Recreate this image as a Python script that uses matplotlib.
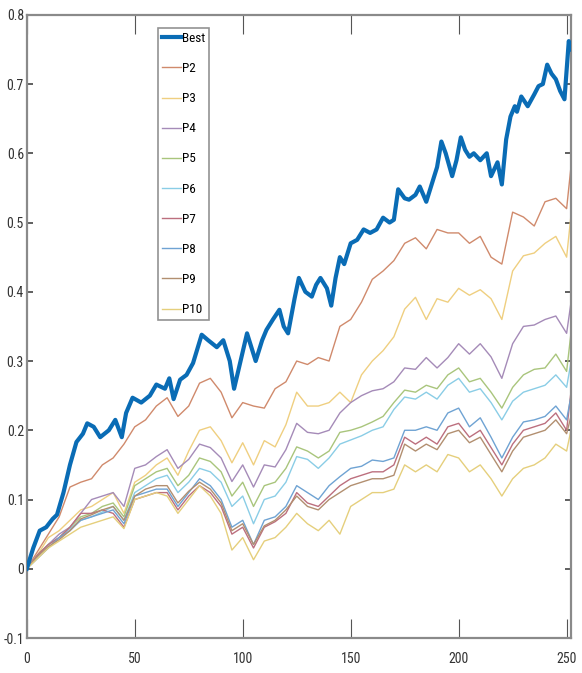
import matplotlib
matplotlib.use("Agg")
import matplotlib.pyplot as plt
from matplotlib.ticker import FuncFormatter

plt.rcParams['font.family'] = ['Roboto Condensed', 'DejaVu Sans']

# best portfolio, read at its own x positions
x_best = [0, 3, 6, 9, 12, 14, 17, 20, 23, 26, 28, 31, 34, 38, 41, 44, 46, 49, 53, 57,
          60, 64, 66, 68, 71, 74, 77, 81, 84, 88, 91, 94, 96, 99, 102, 104, 106, 109, 111, 114,
          117, 119, 121, 124, 126, 129, 132, 134, 136, 139, 141, 143, 145, 147, 150, 153, 156, 159, 162, 165,
          168, 170, 172, 175, 177, 180, 182, 185, 188, 190, 192, 194, 197, 199, 201, 203, 205, 207, 210, 213,
          215, 218, 220, 222, 224, 226, 227, 229, 232, 235, 237, 239, 241, 243, 245, 247, 249, 251, 252]
best = [0.0, 0.03, 0.055, 0.06, 0.072, 0.078, 0.11, 0.15, 0.183, 0.195, 0.21, 0.205, 0.19, 0.2, 0.215, 0.19, 0.225, 0.247, 0.24, 0.25,
        0.266, 0.26, 0.275, 0.245, 0.273, 0.28, 0.297, 0.338, 0.33, 0.32, 0.33, 0.3, 0.26, 0.3, 0.34, 0.32, 0.3, 0.33, 0.345, 0.36,
        0.374, 0.35, 0.34, 0.39, 0.42, 0.40, 0.393, 0.41, 0.42, 0.405, 0.38, 0.42, 0.45, 0.44, 0.47, 0.475, 0.49, 0.485, 0.49, 0.507,
        0.5, 0.504, 0.548, 0.535, 0.533, 0.54, 0.552, 0.53, 0.56, 0.58, 0.617, 0.6, 0.567, 0.59, 0.623, 0.605, 0.595, 0.6, 0.59, 0.6,
        0.567, 0.587, 0.555, 0.62, 0.653, 0.668, 0.66, 0.682, 0.668, 0.685, 0.697, 0.7, 0.728, 0.715, 0.707, 0.69, 0.678, 0.762, 0.75]

# other portfolios, read every 5 days (plus last day)
x = list(range(0, 251, 5)) + [252]
p2 = [0, 0.025, 0.05, 0.075, 0.118, 0.125, 0.13, 0.15, 0.16, 0.18, 0.205, 0.215, 0.235, 0.247, 0.22, 0.235, 0.268, 0.275, 0.255, 0.218,
      0.24, 0.235, 0.232, 0.26, 0.27, 0.30, 0.295, 0.305, 0.30, 0.35, 0.36, 0.385, 0.418, 0.43, 0.445, 0.47, 0.478, 0.462, 0.49, 0.485,
      0.485, 0.47, 0.48, 0.45, 0.44, 0.515, 0.508, 0.495, 0.53, 0.535, 0.52, 0.58]
p3 = [0, 0.02, 0.045, 0.055, 0.07, 0.085, 0.09, 0.1, 0.11, 0.08, 0.125, 0.135, 0.15, 0.16, 0.135, 0.17, 0.2, 0.205, 0.185, 0.153,
      0.182, 0.15, 0.185, 0.176, 0.208, 0.255, 0.235, 0.235, 0.24, 0.255, 0.24, 0.28, 0.3, 0.315, 0.335, 0.375, 0.392, 0.36, 0.39, 0.385,
      0.405, 0.395, 0.403, 0.39, 0.36, 0.43, 0.452, 0.456, 0.47, 0.48, 0.45, 0.51]
p4 = [0, 0.02, 0.035, 0.05, 0.06, 0.08, 0.1, 0.105, 0.11, 0.09, 0.145, 0.15, 0.162, 0.172, 0.145, 0.158, 0.18, 0.175, 0.16, 0.126,
      0.15, 0.118, 0.15, 0.147, 0.172, 0.21, 0.197, 0.195, 0.2, 0.225, 0.24, 0.25, 0.257, 0.26, 0.27, 0.29, 0.288, 0.305, 0.29, 0.305,
      0.325, 0.31, 0.325, 0.306, 0.275, 0.325, 0.35, 0.352, 0.36, 0.365, 0.34, 0.384]
p5 = [0, 0.02, 0.035, 0.045, 0.06, 0.075, 0.08, 0.09, 0.095, 0.075, 0.12, 0.13, 0.14, 0.145, 0.12, 0.135, 0.16, 0.155, 0.14, 0.105,
      0.125, 0.09, 0.12, 0.125, 0.145, 0.176, 0.17, 0.16, 0.17, 0.197, 0.2, 0.205, 0.212, 0.22, 0.24, 0.258, 0.255, 0.265, 0.26, 0.28,
      0.29, 0.27, 0.275, 0.255, 0.232, 0.262, 0.28, 0.288, 0.29, 0.31, 0.285, 0.34]
p6 = [0, 0.018, 0.035, 0.045, 0.058, 0.07, 0.075, 0.082, 0.09, 0.07, 0.11, 0.12, 0.13, 0.135, 0.11, 0.125, 0.145, 0.14, 0.125, 0.09,
      0.105, 0.065, 0.1, 0.105, 0.125, 0.162, 0.158, 0.145, 0.16, 0.18, 0.186, 0.192, 0.2, 0.205, 0.23, 0.248, 0.245, 0.255, 0.245, 0.265,
      0.275, 0.255, 0.26, 0.24, 0.215, 0.242, 0.255, 0.26, 0.265, 0.28, 0.262, 0.298]
p7 = [0, 0.02, 0.035, 0.045, 0.06, 0.08, 0.08, 0.085, 0.08, 0.06, 0.1, 0.105, 0.11, 0.11, 0.085, 0.105, 0.12, 0.11, 0.09, 0.05,
      0.06, 0.03, 0.06, 0.068, 0.08, 0.11, 0.095, 0.09, 0.105, 0.12, 0.13, 0.135, 0.14, 0.14, 0.15, 0.19, 0.18, 0.19, 0.18, 0.205,
      0.21, 0.19, 0.2, 0.175, 0.15, 0.18, 0.2, 0.205, 0.21, 0.225, 0.2, 0.255]
p8 = [0, 0.015, 0.03, 0.045, 0.055, 0.07, 0.075, 0.08, 0.085, 0.065, 0.105, 0.11, 0.115, 0.115, 0.09, 0.11, 0.13, 0.12, 0.1, 0.06,
      0.07, 0.035, 0.07, 0.075, 0.09, 0.12, 0.11, 0.1, 0.12, 0.133, 0.145, 0.148, 0.157, 0.155, 0.16, 0.2, 0.2, 0.205, 0.2, 0.225,
      0.232, 0.205, 0.218, 0.19, 0.16, 0.19, 0.212, 0.215, 0.22, 0.235, 0.215, 0.249]
p9 = [0, 0.018, 0.032, 0.042, 0.055, 0.072, 0.078, 0.085, 0.09, 0.07, 0.105, 0.115, 0.12, 0.12, 0.095, 0.112, 0.125, 0.115, 0.095, 0.055,
      0.065, 0.035, 0.062, 0.07, 0.085, 0.105, 0.09, 0.085, 0.1, 0.11, 0.12, 0.125, 0.13, 0.13, 0.135, 0.18, 0.17, 0.18, 0.172, 0.195,
      0.2, 0.182, 0.19, 0.165, 0.14, 0.17, 0.19, 0.195, 0.2, 0.215, 0.195, 0.22]
p10 = [0, 0.015, 0.03, 0.04, 0.05, 0.06, 0.065, 0.07, 0.075, 0.058, 0.1, 0.105, 0.11, 0.105, 0.08, 0.1, 0.12, 0.105, 0.08, 0.027,
       0.045, 0.013, 0.04, 0.045, 0.06, 0.08, 0.065, 0.055, 0.07, 0.05, 0.09, 0.1, 0.11, 0.11, 0.115, 0.15, 0.14, 0.15, 0.14, 0.165,
       0.16, 0.14, 0.15, 0.13, 0.105, 0.13, 0.145, 0.15, 0.16, 0.18, 0.17, 0.2]

others = [p2, p3, p4, p5, p6, p7, p8, p9, p10]
names = ['P2', 'P3', 'P4', 'P5', 'P6', 'P7', 'P8', 'P9', 'P10']
colors = ['#D08A6C', '#EFCF80', '#A58BB8', '#A9C57C', '#8ACDE6', '#BC6F7E', '#6FA3D3', '#B28F70', '#E5CF7C']

fig = plt.figure(figsize=(5.82, 6.73), dpi=100)
ax = fig.add_axes([0.046, 0.052, 0.935, 0.926])

ax.plot(x_best, best, color='#0A6CB5', lw=3.0, label='Best', zorder=5)
for vals, nm, c in zip(others, names, colors):
    ax.plot(x, vals, color=c, lw=1.0, label=nm)

ax.set_xlim(0, 252)
ax.set_ylim(-0.1, 0.8)
ax.set_xticks([0, 50, 100, 150, 200, 250])
ax.set_yticks([-0.1, 0, 0.1, 0.2, 0.3, 0.4, 0.5, 0.6, 0.7, 0.8])
ax.yaxis.set_major_formatter(FuncFormatter(lambda v, p: '0' if abs(v) < 1e-9 else ('%.1f' % v)))

ax.tick_params(axis='x', direction='in', length=14, width=0.8, color='#555555',
               top=True, labelsize=10, labelcolor='#333333', pad=10)
ax.tick_params(axis='y', direction='in', length=4, width=1.2, color='#444444',
               right=True, labelsize=10, labelcolor='#333333', pad=2)
for s in ax.spines.values():
    s.set_color('#8a8a8a')
    s.set_linewidth(1.6)

leg = ax.legend(loc='upper left', bbox_to_anchor=(0.241, 0.979), borderaxespad=0,
                fontsize=9.5, labelspacing=1.3, handlelength=1.45, handletextpad=0.05,
                borderpad=0.3, fancybox=False, frameon=True)
leg.get_frame().set_edgecolor('#777777')
leg.get_frame().set_linewidth(1.2)

fig.savefig('out.png', dpi=100)
